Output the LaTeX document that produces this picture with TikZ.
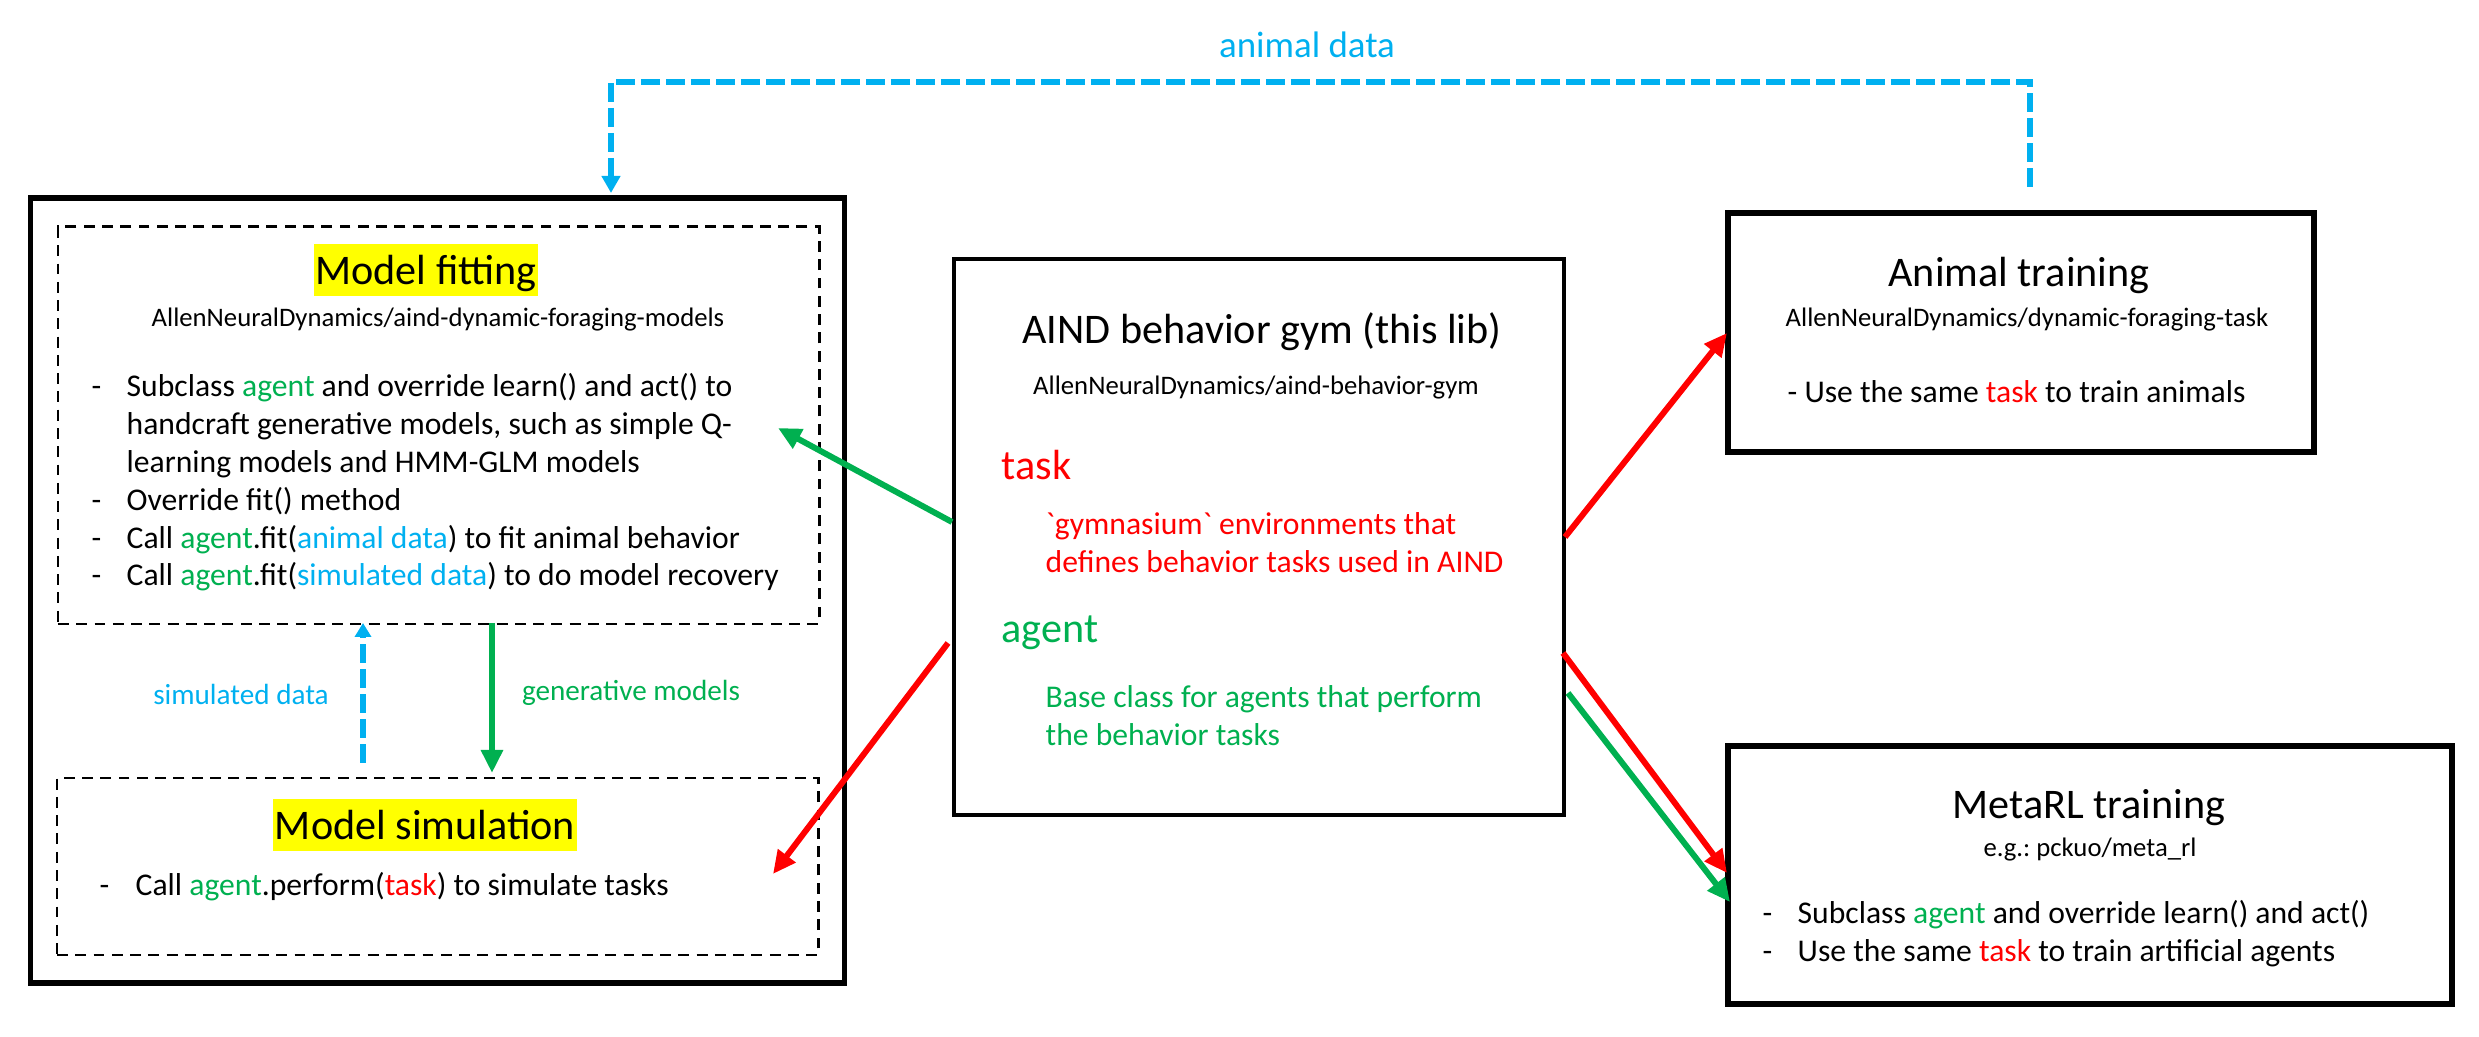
\documentclass[tikz,border=0pt]{standalone}
\usepackage{fontspec}
\setmainfont{Carlito}
\usepackage{xcolor}
\usetikzlibrary{arrows.meta}

\definecolor{taskred}{HTML}{FF0000}
\definecolor{agentgreen}{HTML}{00B050}
\definecolor{datablue}{HTML}{00B0F0}
\definecolor{hlyellow}{HTML}{FFFF00}

\newcommand{\grv}{{\addfontfeatures{Ligatures=TeXOff}\symbol{96}}}

\tikzset{
  bigbox/.style={draw, line width=1.6pt, inner sep=0pt},
  dashbox/.style={draw, line width=0.85pt, dash pattern=on 3.1pt off 2.1pt, inner sep=0pt},
  hl/.style={fill=hlyellow, inner xsep=0.5pt, inner ysep=0pt, text height=11.4pt, text depth=3.2pt, font=\fontsize{12}{14}\selectfont},
  title/.style={inner sep=0pt, font=\fontsize{12}{14}\selectfont},
  sub/.style={inner sep=0pt, font=\fontsize{7.6}{9}\selectfont},
  body/.style={inner sep=0pt, font=\fontsize{9}{10.8}\selectfont, align=left},
  lbl/.style={inner sep=0pt, font=\fontsize{8.3}{10}\selectfont},
  redarrow/.style={draw=taskred, line width=1.7pt, -{Triangle[length=0.23cm,width=0.21cm]}},
  greenarrow/.style={draw=agentgreen, line width=1.7pt, -{Triangle[length=0.23cm,width=0.21cm]}},
  bluedash/.style={draw=datablue, line width=1.7pt, dash pattern=on 0.19cm off 0.06cm, -{Triangle[length=0.17cm,width=0.18cm]}},
}

\begin{document}
\begin{tikzpicture}
\useasboundingbox (0,0) rectangle (24.79,10.36);

% boxes
\node[bigbox, minimum width=8.14cm, minimum height=7.85cm] (outer) at (4.375,4.455) {};
\node[dashbox, minimum width=7.61cm, minimum height=3.97cm] (fit) at (4.385,6.105) {};
\node[dashbox, minimum width=7.61cm, minimum height=1.77cm] (sim) at (4.375,1.695) {};
\node[bigbox, line width=1.4pt, minimum width=6.10cm, minimum height=5.56cm] (gym) at (12.59,4.99) {};
\node[bigbox, minimum width=5.86cm, minimum height=2.39cm] (animal) at (20.21,7.035) {};
\node[bigbox, minimum width=7.24cm, minimum height=2.58cm] (meta) at (20.90,1.61) {};

% model fitting
\node[hl] (fittitle) at (4.26,7.66) {Model fitting};
\node[sub] (fitrepo) at (4.38,7.16) {AllenNeuralDynamics/aind-dynamic-foraging-models};
\node[body, anchor=west] (fitlist) at (0.91,5.525) {\begin{tabular}{@{}p{0.35cm}@{}l@{}}
- & Subclass \textcolor{agentgreen}{agent} and override learn() and act() to\\
  & handcraft generative models, such as simple Q-\\
  & learning models and HMM-GLM models\\
- & Override fit() method\\
- & Call \textcolor{agentgreen}{agent}.fit(\textcolor{datablue}{animal data}) to fit animal behavior\\
- & Call \textcolor{agentgreen}{agent}.fit(\textcolor{datablue}{simulated data}) to do model recovery
\end{tabular}};

% model simulation
\node[hl] (simtitle) at (4.25,2.11) {Model simulation};
\node[body, anchor=west] (simlist) at (0.99,1.48) {\begin{tabular}{@{}p{0.36cm}@{}l@{}}
- & Call \textcolor{agentgreen}{agent}.perform(\textcolor{taskred}{task}) to simulate tasks
\end{tabular}};

\node[lbl, text=datablue] (simlbl) at (2.41,3.42) {simulated data};
\node[lbl, text=agentgreen] (genlbl) at (6.31,3.43) {generative models};

% gym
\node[title] (gymtitle) at (12.62,7.04) {AIND behavior gym (this lib)};
\node[sub] (gymrepo) at (12.56,6.48) {AllenNeuralDynamics/aind-behavior-gym};
\node[title, anchor=west, text=taskred] (tasktitle) at (10.01,5.71) {task};
\node[body, anchor=west, text=taskred] (taskdesc) at (10.45,4.935) {\grv gymnasium\grv{} environments that\\defines behavior tasks used in AIND};
\node[title, anchor=west, text=agentgreen] (agenttitle) at (10.01,4.03) {agent};
\node[body, anchor=west, text=agentgreen] (agentdesc) at (10.45,3.20) {Base class for agents that perform\\the behavior tasks};

% animal training
\node[title] (animaltitle) at (20.19,7.61) {Animal training};
\node[sub] (animalrepo) at (20.27,7.16) {AllenNeuralDynamics/dynamic-foraging-task};
\node[body, anchor=west] (animallist) at (17.87,6.44) {- Use the same \textcolor{taskred}{task} to train animals};

% metaRL training
\node[title] (metatitle) at (20.89,2.28) {MetaRL training};
\node[sub] (metarepo) at (20.90,1.86) {e.g.:\ pckuo/meta\_rl};
\node[body, anchor=west] (metalist) at (17.62,1.01) {\begin{tabular}{@{}p{0.35cm}@{}l@{}}
- & Subclass \textcolor{agentgreen}{agent} and override learn() and act()\\
- & Use the same \textcolor{taskred}{task} to train artificial agents
\end{tabular}};

\node[lbl, font=\fontsize{10.5}{12}\selectfont, text=datablue] (animallbl) at (13.07,9.91) {animal data};

% arrow ends
\coordinate (gymfit) at (9.52,5.14);
\coordinate (fitin) at (7.78,6.08);
\coordinate (gymsim) at (9.48,3.93);
\coordinate (simin) at (7.73,1.62);
\coordinate (gymanimal) at (15.65,4.99);
\coordinate (animalin) at (17.27,7.03);
\coordinate (gymmetaA) at (15.63,3.83);
\coordinate (metainA) at (17.27,1.63);
\coordinate (gymmetaB) at (15.68,3.43);
\coordinate (metainB) at (17.30,1.34);
\coordinate (animalout) at (20.30,8.49);
\coordinate (looptop) at (13.07,9.54);
\coordinate (outerin) at (6.11,8.43);
\coordinate (simout) at (3.63,2.73);
\coordinate (fitbot) at (3.63,4.13);
\coordinate (fitgen) at (4.92,4.13);
\coordinate (simtop) at (4.92,2.63);

\draw[greenarrow] (gymfit) -- (fitin);
\draw[redarrow] (gymsim) -- (simin);
\draw[redarrow] (gymanimal) -- (animalin);
\draw[redarrow] (gymmetaA) -- (metainA);
\draw[greenarrow] (gymmetaB) -- (metainB);
\draw[bluedash] (animalout) |- (looptop) -| (outerin);
\draw[bluedash, -{Triangle[length=0.14cm,width=0.16cm]}] (simout) -- (fitbot);
\draw[greenarrow] (fitgen) -- (simtop);
\end{tikzpicture}
\end{document}
